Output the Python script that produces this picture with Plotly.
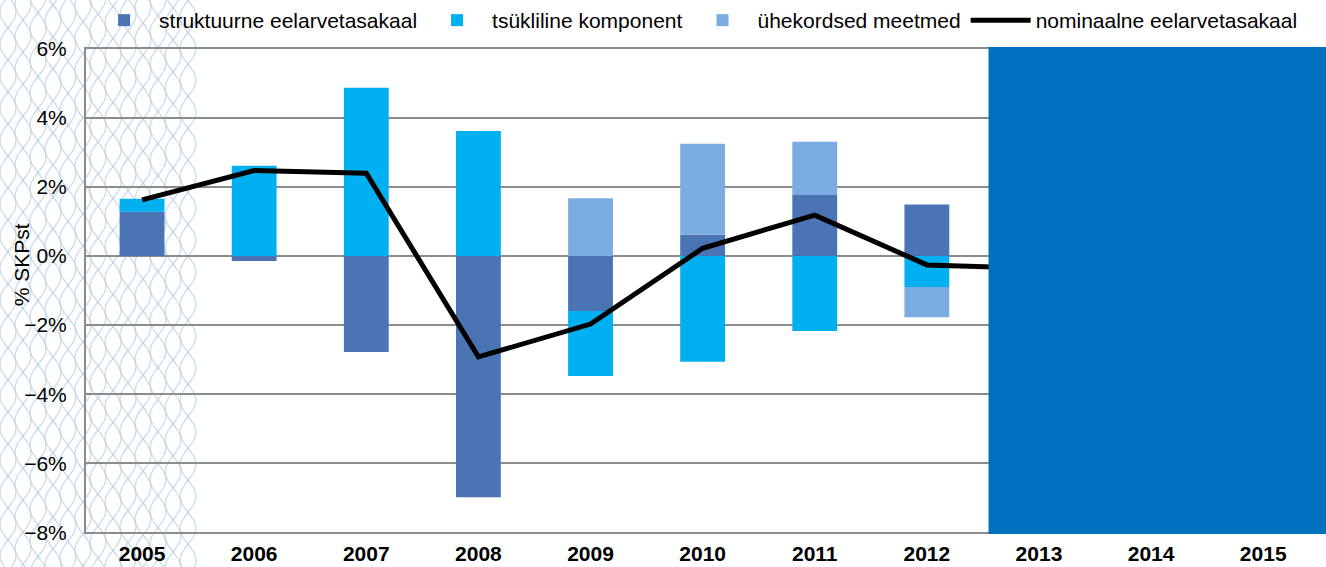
import numpy as np
import plotly.graph_objects as go

# Budget balance decomposition, % of GDP
years = ["2005", "2006", "2007", "2008", "2009", "2010", "2011", "2012", "2013", "2014", "2015"]
structural = [1.28, -0.15, -2.78, -6.98, -1.59, 0.61, 1.76, 1.49, None, None, None]
cyclical = [0.37, 2.61, 4.86, 3.61, -1.88, -3.06, -2.17, -0.90, None, None, None]
one_off = [0.0, 0.0, 0.0, 0.0, 1.67, 2.63, 1.54, -0.87, None, None, None]
nominal = [1.62, 2.47, 2.39, -2.92, -1.97, 0.22, 1.18, -0.26, -0.36, None, None]

names = ["struktuurne eelarvetasakaal", "tsükliline komponent", "ühekordsed meetmed",
         "nominaalne eelarvetasakaal"]
colors = ["#4A74B3", "#00B0F0", "#7AACE1", "#000000"]
y_title = "% SKPst"

W, H = 1326, 567
ML, MR, MT, MB = 86, 0, 47, 33
FONT = "Arial, Liberation Sans, sans-serif"

fig = go.Figure()
for vals, name, col in zip([structural, cyclical, one_off], names[:3], colors[:3]):
    fig.add_trace(go.Bar(x=years, y=vals, name=name, marker_color=col,
                         marker_line_width=0, width=0.4))
fig.add_trace(go.Scatter(x=years, y=nominal, name=names[3], mode="lines",
                         line=dict(color=colors[3], width=5)))

# Forecast period covered by a solid panel
fig.add_shape(type="rect", xref="x", yref="y", x0=7.55, x1=10.56, y0=-8.04, y1=6.04,
              fillcolor="#0070C0", line_width=0, layer="above")

# Decorative wave lattice along the left edge of the page
pw, ph = W - ML - MR, H - MT - MB
yy = np.arange(-10, H + 12, 3.0)
for cx in np.arange(8, 198, 15):
    for ph0 in (0.0, np.pi):
        xx = cx + 8 * np.sin(2 * np.pi * yy / 64 + ph0 + cx * 0.05)
        xs = (xx - ML) / pw
        ys = (H - MB - yy) / ph
        path = "M" + " L".join(f"{a:.5f},{b:.5f}" for a, b in zip(xs, ys))
        fig.add_shape(type="path", xref="paper", yref="paper", path=path,
                      line=dict(color="rgba(180,205,224,0.7)", width=1.3), layer="below")

# Vertical axis title
fig.add_annotation(text=y_title, textangle=-90, xref="paper", yref="paper",
                   x=(21 - ML) / pw, y=0.552, xanchor="center", yanchor="middle",
                   showarrow=False, font=dict(size=21, family=FONT, color="#000000"))

fig.update_layout(
    width=W, height=H,
    margin=dict(l=ML, r=MR, t=MT, b=MB, autoexpand=False),
    paper_bgcolor="white", plot_bgcolor="rgba(0,0,0,0)",
    barmode="relative", bargap=0.6,
    font=dict(family=FONT, size=21, color="#000000"),
    showlegend=True,
    legend=dict(orientation="h", x=0.492, xanchor="center",
                y=1.0, yanchor="top", yref="container",
                font=dict(size=21), bgcolor="rgba(0,0,0,0)", itemwidth=60,
                traceorder="normal"),
    xaxis=dict(type="category", range=[-0.5, 10.56], showgrid=False, showline=False,
               zeroline=False, ticks="", automargin=False,
               tickfont=dict(size=21, family=FONT, weight="bold"),
               ticklabelstandoff=5),
    yaxis=dict(range=[-8.04, 6.04], tick0=0, dtick=2, ticksuffix="%", automargin=False,
               showgrid=True, gridcolor="#8C8C8C", gridwidth=2,
               zeroline=True, zerolinecolor="#8C8C8C", zerolinewidth=2,
               showline=True, linecolor="#8C8C8C", linewidth=2, ticks="",
               ticklabelstandoff=13, tickfont=dict(size=21)),
)

fig.write_html("out.html")
